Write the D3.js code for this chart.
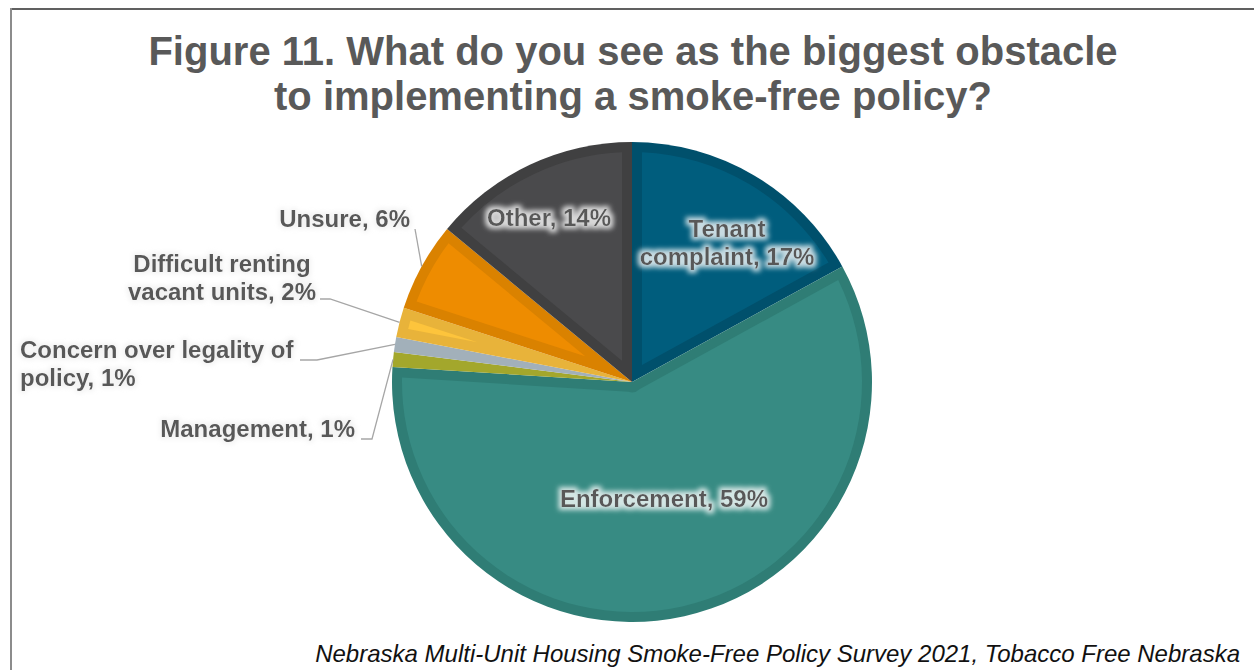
<!DOCTYPE html>
<html>
<head>
<meta charset="utf-8">
<script src="https://cdn.jsdelivr.net/npm/d3@7"></script>
<style>
  html, body { margin: 0; padding: 0; background: #ffffff; }
  svg { display: block; }
  text { font-family: "Liberation Sans", Arial, Helvetica, sans-serif; }
</style>
</head>
<body>
<svg id="chart" width="1254" height="670"></svg>
<script>
// Survey answers, clockwise from 12 o'clock ("\n" marks a label line break)
const categories = [
  "Tenant\ncomplaint",
  "Enforcement",
  "Management",
  "Concern over legality of\npolicy",
  "Difficult renting\nvacant units",
  "Unsure",
  "Other"
];
const percents = [17, 59, 1, 1, 2, 6, 14];

// Slice fill and the darker rim band drawn around each slice
const fillColors = ["#005d7d", "#378b83", "#abaf32", "#a9b7c1", "#fdc43c", "#ee8c00", "#4a4a4c"];
const bandColors = ["#00506c", "#2f7d75", "#a3a72c", "#a2b0ba", "#e8b33a", "#da8200", "#404041"];

const titleLines = [
  "Figure 11. What do you see as the biggest obstacle",
  "to implementing a smoke-free policy?"
];
const sourceNote = "Nebraska Multi-Unit Housing Smoke-Free Policy Survey 2021, Tobacco Free Nebraska";

const W = 1254, H = 670;
const cx = 632, cy = 382, R = 240, band = 10;

const svg = d3.select("#chart");

// Glow filters for the data labels
const defs = svg.append("defs");
function addGlow(id, color, opacity, spread, blur) {
  const f = defs.append("filter").attr("id", id)
    .attr("x", "-20%").attr("y", "-60%").attr("width", "140%").attr("height", "220%");
  f.append("feMorphology").attr("in", "SourceAlpha").attr("operator", "dilate")
    .attr("radius", spread).attr("result", "dil");
  f.append("feGaussianBlur").attr("in", "dil").attr("stdDeviation", blur).attr("result", "blur");
  f.append("feFlood").attr("flood-color", color).attr("flood-opacity", opacity);
  f.append("feComposite").attr("in2", "blur").attr("operator", "in").attr("result", "glow");
  const m = f.append("feMerge");
  m.append("feMergeNode").attr("in", "glow");
  m.append("feMergeNode").attr("in", "SourceGraphic");
}
addGlow("glowIn", "#ffffff", 0.78, 3, 2.8);
addGlow("glowOut", "#dcdcdc", 0.35, 1.5, 2.5);

// Frame lines (top and left edge of the chart area)
svg.append("line").attr("x1", 10).attr("y1", 9).attr("x2", W).attr("y2", 9)
  .attr("stroke", "#606060").attr("stroke-width", 2);
svg.append("line").attr("x1", 11).attr("y1", 8).attr("x2", 11).attr("y2", H)
  .attr("stroke", "#8c8c8c").attr("stroke-width", 2);

// Title
svg.append("text")
  .attr("x", 633).attr("y", 65)
  .attr("text-anchor", "middle")
  .attr("font-size", 40).attr("font-weight", "bold").attr("fill", "#595959")
  .selectAll("tspan").data(titleLines).join("tspan")
  .attr("x", 633).attr("dy", (d, i) => i === 0 ? 0 : 45)
  .text(d => d);

// Pie
const data = categories.map((c, i) => ({ name: c, value: percents[i], i }));
const pie = d3.pie().sort(null).value(d => d.value);
const arcs = pie(data);

const outerArc = d3.arc().innerRadius(0).outerRadius(R);

const g = svg.append("g").attr("transform", `translate(${cx},${cy})`);

// Full slice in the band colour
g.selectAll("path.band").data(arcs).join("path")
  .attr("class", "band")
  .attr("d", outerArc)
  .attr("fill", d => bandColors[d.data.i]);

// Inset slice in the fill colour, offset by the band width on every side
const padR = R;
const padA = 2 * Math.asin(band / padR);
g.selectAll("path.fill").data(arcs).join("path")
  .attr("class", "fill")
  .attr("d", d => {
    const theta = d.endAngle - d.startAngle;
    const apex = band / Math.sin(Math.min(theta, Math.PI * 2 - 1e-3) / 2) * 1.002;
    if (apex >= R - band) return null;
    return d3.arc()
      .innerRadius(apex)
      .outerRadius(R - band)
      .padRadius(padR)
      .padAngle(padA)(d);
  })
  .attr("fill", d => fillColors[d.data.i]);

// Label placement: inside labels sit on the slice, outside ones use leader lines
const labelLayout = [
  { x: 727, y: 237, anchor: "middle", inside: true },
  { x: 664, y: 507, anchor: "middle", inside: true },
  { x: 355, y: 437, anchor: "end", inside: false, lx: 361, ly: 439, hx: 372 },
  { x: 20, y: 358, anchor: "start", inside: false, lx: 300, ly: 360, hx: 317 },
  { x: 222, y: 272, anchor: "middle", inside: false, lx: 320, ly: 299, hx: 330 },
  { x: 410, y: 227, anchor: "end", inside: false, lx: 415, ly: 229 },
  { x: 549, y: 226, anchor: "middle", inside: true }
];

const lineH = 27.5;
const labels = svg.append("g");
arcs.forEach(d => {
  const L = labelLayout[d.data.i];
  const text = `${d.data.name}, ${d.data.value}%`;
  const lines = text.split("\n");

  if (!L.inside) {
    // Leader: short horizontal run, then to the middle of the slice's rim
    const mid = (d.startAngle + d.endAngle) / 2;
    const ex = cx + R * Math.sin(mid);
    const ey = cy - R * Math.cos(mid);
    const pts = [[L.lx, L.ly]];
    if (L.hx !== undefined) pts.push([L.hx, L.ly]);
    pts.push([ex, ey]);
    labels.append("path")
      .attr("d", d3.line()(pts))
      .attr("fill", "none")
      .attr("stroke", "#a6a6a6")
      .attr("stroke-width", 1.3);
  }

  labels.append("text")
    .attr("x", L.x).attr("y", L.y)
    .attr("text-anchor", L.anchor)
    .attr("font-size", 24).attr("font-weight", "bold")
    .attr("fill", "#595959")
    .attr("filter", L.inside ? "url(#glowIn)" : "url(#glowOut)")
    .selectAll("tspan").data(lines).join("tspan")
    .attr("x", L.x).attr("dy", (t, k) => k === 0 ? 0 : lineH)
    .text(t => t);
});

// Source note
svg.append("text")
  .attr("x", 1240).attr("y", 662)
  .attr("text-anchor", "end")
  .attr("font-size", 24).attr("font-style", "italic")
  .attr("fill", "#111111")
  .text(sourceNote);
</script>
</body>
</html>
